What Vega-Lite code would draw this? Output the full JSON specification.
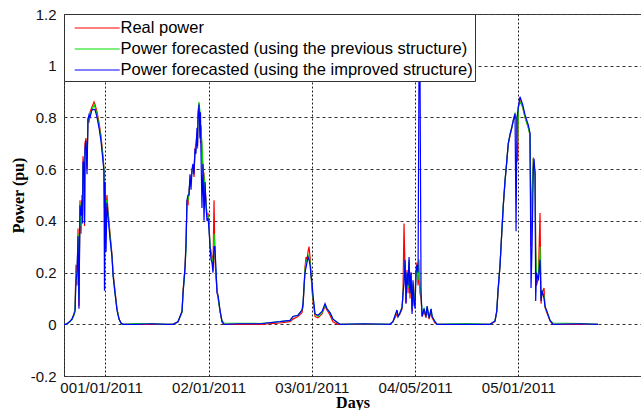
{
"$schema": "https://vega.github.io/schema/vega-lite/v6.json",
"width": 577, "height": 362,
"autosize": {"type": "none"},
"padding": {"left": 64, "top": 14, "right": 0, "bottom": 34},
"background": "white",
"title": {"text": "The improved structure", "fontSize": 14, "font": "Liberation Sans", "fontWeight": "normal", "offset": 10, "dx": -8, "color": "black"},
"config": {"view": {"stroke": "#444", "strokeWidth": 1}},
"data": {"values": [
{"x":0,"r":0,"p":0,"i":0},
{"x":1.9,"r":0,"p":0,"i":0},
{"x":3.9,"r":0.005,"p":0.005,"i":0.005},
{"x":5.8,"r":0.01,"p":0.01,"i":0.012},
{"x":7.7,"r":0.02,"p":0.018,"i":0.02},
{"x":9.7,"r":0.04,"p":0.035,"i":0.04},
{"x":10.7,"r":0.06,"p":0.06,"i":0.05},
{"x":11.6,"r":0.23,"p":0.2,"i":0.17},
{"x":12.6,"r":0.15,"p":0.17,"i":0.2},
{"x":13.6,"r":0.37,"p":0.35,"i":0.34},
{"x":14.5,"r":0.07,"p":0.1,"i":0.06},
{"x":15.5,"r":0.48,"p":0.47,"i":0.46},
{"x":16.5,"r":0.35,"p":0.38,"i":0.42},
{"x":17.4,"r":0.5,"p":0.5,"i":0.48},
{"x":17.9,"r":0.4,"p":0.42,"i":0.39},
{"x":18.4,"r":0.65,"p":0.62,"i":0.63},
{"x":19.4,"r":0.6,"p":0.58,"i":0.62},
{"x":19.9,"r":0.38,"p":0.42,"i":0.39},
{"x":20.3,"r":0.7,"p":0.66,"i":0.68},
{"x":21.3,"r":0.72,"p":0.7,"i":0.71},
{"x":22.3,"r":0.6,"p":0.62,"i":0.58},
{"x":23.2,"r":0.8,"p":0.79,"i":0.79},
{"x":24.2,"r":0.78,"p":0.8,"i":0.81},
{"x":25.2,"r":0.82,"p":0.81,"i":0.8},
{"x":27.1,"r":0.84,"p":0.83,"i":0.83},
{"x":29.1,"r":0.86,"p":0.85,"i":0.83},
{"x":30.0,"r":0.85,"p":0.84,"i":0.83},
{"x":32.0,"r":0.82,"p":0.81,"i":0.8},
{"x":33.9,"r":0.78,"p":0.77,"i":0.76},
{"x":35.8,"r":0.73,"p":0.72,"i":0.71},
{"x":37.8,"r":0.65,"p":0.64,"i":0.63},
{"x":38.7,"r":0.6,"p":0.6,"i":0.59},
{"x":39.2,"r":0.45,"p":0.5,"i":0.13},
{"x":39.7,"r":0.55,"p":0.54,"i":0.55},
{"x":40.7,"r":0.42,"p":0.45,"i":0.28},
{"x":41.6,"r":0.5,"p":0.48,"i":0.47},
{"x":42.6,"r":0.44,"p":0.43,"i":0.42},
{"x":44.6,"r":0.35,"p":0.34,"i":0.33},
{"x":46.5,"r":0.27,"p":0.26,"i":0.26},
{"x":47.5,"r":0.2,"p":0.19,"i":0.19},
{"x":49.4,"r":0.13,"p":0.12,"i":0.12},
{"x":51.3,"r":0.06,"p":0.06,"i":0.055},
{"x":53.3,"r":0.02,"p":0.02,"i":0.02},
{"x":55.2,"r":0.005,"p":0.005,"i":0.005},
{"x":57.1,"r":0,"p":0,"i":0},
{"x":70,"r":0,"p":0.003,"i":0},
{"x":85,"r":0,"p":0.003,"i":0.002},
{"x":100,"r":0,"p":0,"i":0},
{"x":105.6,"r":0,"p":0,"i":0},
{"x":110.4,"r":0.01,"p":0.01,"i":0.01},
{"x":114.3,"r":0.05,"p":0.045,"i":0.05},
{"x":115.3,"r":0.13,"p":0.12,"i":0.12},
{"x":117.2,"r":0.22,"p":0.21,"i":0.22},
{"x":118.2,"r":0.325,"p":0.3,"i":0.31},
{"x":119.1,"r":0.48,"p":0.47,"i":0.48},
{"x":120.1,"r":0.46,"p":0.48,"i":0.5},
{"x":121.1,"r":0.52,"p":0.51,"i":0.5},
{"x":122.0,"r":0.55,"p":0.56,"i":0.58},
{"x":123.0,"r":0.57,"p":0.55,"i":0.52},
{"x":124.0,"r":0.59,"p":0.6,"i":0.6},
{"x":124.9,"r":0.61,"p":0.6,"i":0.62},
{"x":125.9,"r":0.57,"p":0.62,"i":0.58},
{"x":126.9,"r":0.675,"p":0.66,"i":0.68},
{"x":127.8,"r":0.7,"p":0.68,"i":0.66},
{"x":128.8,"r":0.74,"p":0.72,"i":0.76},
{"x":129.3,"r":0.68,"p":0.7,"i":0.69},
{"x":129.8,"r":0.82,"p":0.8,"i":0.8},
{"x":130.7,"r":0.855,"p":0.86,"i":0.85},
{"x":131.7,"r":0.8,"p":0.82,"i":0.72},
{"x":132.2,"r":0.7,"p":0.71,"i":0.82},
{"x":132.6,"r":0.77,"p":0.75,"i":0.68},
{"x":133.6,"r":0.675,"p":0.7,"i":0.45},
{"x":134.6,"r":0.6,"p":0.6,"i":0.62},
{"x":135.6,"r":0.58,"p":0.57,"i":0.4},
{"x":136.6,"r":0.53,"p":0.52,"i":0.55},
{"x":137.5,"r":0.48,"p":0.47,"i":0.46},
{"x":138.5,"r":0.415,"p":0.42,"i":0.4},
{"x":139.5,"r":0.43,"p":0.42,"i":0.41},
{"x":140.4,"r":0.39,"p":0.38,"i":0.37},
{"x":141.4,"r":0.3,"p":0.31,"i":0.3},
{"x":142.4,"r":0.28,"p":0.27,"i":0.25},
{"x":143.3,"r":0.26,"p":0.25,"i":0.24},
{"x":144.3,"r":0.22,"p":0.21,"i":0.2},
{"x":145.3,"r":0.48,"p":0.35,"i":0.3},
{"x":146.2,"r":0.25,"p":0.28,"i":0.3},
{"x":147.2,"r":0.18,"p":0.2,"i":0.21},
{"x":148.2,"r":0.13,"p":0.14,"i":0.12},
{"x":149.2,"r":0.11,"p":0.1,"i":0.11},
{"x":151.1,"r":0.05,"p":0.05,"i":0.055},
{"x":153.0,"r":0.01,"p":0.015,"i":0.01},
{"x":155.0,"r":0,"p":0.005,"i":0},
{"x":170,"r":0,"p":0.004,"i":0.002},
{"x":190,"r":0,"p":0.003,"i":0.002},
{"x":209.2,"r":0.005,"p":0.01,"i":0.01},
{"x":218.9,"r":0.01,"p":0.015,"i":0.015},
{"x":221.8,"r":0.02,"p":0.03,"i":0.03},
{"x":226.6,"r":0.03,"p":0.035,"i":0.035},
{"x":230.5,"r":0.045,"p":0.055,"i":0.055},
{"x":231.5,"r":0.07,"p":0.08,"i":0.08},
{"x":232.5,"r":0.14,"p":0.145,"i":0.15},
{"x":233.4,"r":0.22,"p":0.21,"i":0.2},
{"x":234.4,"r":0.26,"p":0.24,"i":0.22},
{"x":235.4,"r":0.25,"p":0.25,"i":0.24},
{"x":236.3,"r":0.28,"p":0.25,"i":0.26},
{"x":237.3,"r":0.3,"p":0.27,"i":0.25},
{"x":238.3,"r":0.26,"p":0.24,"i":0.23},
{"x":239.2,"r":0.2,"p":0.19,"i":0.19},
{"x":240.2,"r":0.13,"p":0.15,"i":0.16},
{"x":241.2,"r":0.09,"p":0.1,"i":0.11},
{"x":243.1,"r":0.03,"p":0.04,"i":0.04},
{"x":246.0,"r":0.025,"p":0.03,"i":0.035},
{"x":249.9,"r":0.04,"p":0.045,"i":0.05},
{"x":252.8,"r":0.07,"p":0.075,"i":0.08},
{"x":254.7,"r":0.055,"p":0.06,"i":0.06},
{"x":257.6,"r":0.035,"p":0.045,"i":0.045},
{"x":260.5,"r":0.01,"p":0.02,"i":0.02},
{"x":265.4,"r":0,"p":0.005,"i":0.005},
{"x":267.3,"r":0,"p":0,"i":0},
{"x":290,"r":0,"p":0.002,"i":0.002},
{"x":315.7,"r":0,"p":0,"i":0},
{"x":318.6,"r":0.01,"p":0.01,"i":0.01},
{"x":322.5,"r":0.04,"p":0.055,"i":0.055},
{"x":323.5,"r":0.03,"p":0.03,"i":0.03},
{"x":325.4,"r":0.04,"p":0.045,"i":0.045},
{"x":327.4,"r":0.06,"p":0.065,"i":0.065},
{"x":328.3,"r":0.12,"p":0.11,"i":0.12},
{"x":329.3,"r":0.39,"p":0.2,"i":0.16},
{"x":330.3,"r":0.2,"p":0.24,"i":0.25},
{"x":331.2,"r":0.08,"p":0.1,"i":0.08},
{"x":332.2,"r":0.21,"p":0.2,"i":0.2},
{"x":333.2,"r":0.12,"p":0.14,"i":0.15},
{"x":334.2,"r":0.24,"p":0.25,"i":0.26},
{"x":335.1,"r":0.1,"p":0.12,"i":0.12},
{"x":336.1,"r":0.2,"p":0.18,"i":0.2},
{"x":337.1,"r":0.05,"p":0.06,"i":0.04},
{"x":338.0,"r":0.15,"p":0.16,"i":0.17},
{"x":339.0,"r":0.07,"p":0.09,"i":0.09},
{"x":340.0,"r":0.12,"p":0.11,"i":0.06},
{"x":340.9,"r":0.2,"p":0.19,"i":0.2},
{"x":341.9,"r":0.24,"p":0.22,"i":0.23},
{"x":342.9,"r":0.15,"p":0.17,"i":0.2},
{"x":343.8,"r":0.2,"p":0.25,"i":1.0},
{"x":344.8,"r":0.12,"p":0.15,"i":0.97},
{"x":345.8,"r":0.1,"p":0.12,"i":0.12},
{"x":346.8,"r":0.03,"p":0.035,"i":0.03},
{"x":348.7,"r":0.05,"p":0.06,"i":0.06},
{"x":350.6,"r":0.025,"p":0.03,"i":0.03},
{"x":351.6,"r":0.06,"p":0.07,"i":0.07},
{"x":353.6,"r":0.02,"p":0.025,"i":0.025},
{"x":355.5,"r":0.05,"p":0.06,"i":0.06},
{"x":356.5,"r":0.025,"p":0.03,"i":0.03},
{"x":359.3,"r":0.005,"p":0.01,"i":0.01},
{"x":361.3,"r":0,"p":0,"i":0},
{"x":390,"r":0,"p":0.003,"i":0},
{"x":412.6,"r":0,"p":0,"i":0},
{"x":417.4,"r":0.01,"p":0.013,"i":0.013},
{"x":419.1,"r":0.05,"p":0.05,"i":0.05},
{"x":420.3,"r":0.12,"p":0.13,"i":0.13},
{"x":422.3,"r":0.23,"p":0.23,"i":0.23},
{"x":423.9,"r":0.35,"p":0.35,"i":0.35},
{"x":425.5,"r":0.46,"p":0.465,"i":0.465},
{"x":427.1,"r":0.55,"p":0.555,"i":0.555},
{"x":428.8,"r":0.63,"p":0.63,"i":0.63},
{"x":430.3,"r":0.7,"p":0.7,"i":0.7},
{"x":432.0,"r":0.73,"p":0.735,"i":0.735},
{"x":433.6,"r":0.76,"p":0.76,"i":0.76},
{"x":435.2,"r":0.79,"p":0.79,"i":0.79},
{"x":436.8,"r":0.81,"p":0.815,"i":0.815},
{"x":437.8,"r":0.8,"p":0.8,"i":0.36},
{"x":438.7,"r":0.78,"p":0.79,"i":0.8},
{"x":439.4,"r":0.63,"p":0.7,"i":0.82},
{"x":440.0,"r":0.84,"p":0.84,"i":0.84},
{"x":441.6,"r":0.865,"p":0.86,"i":0.88},
{"x":444.2,"r":0.84,"p":0.84,"i":0.85},
{"x":446.5,"r":0.8,"p":0.8,"i":0.81},
{"x":449.7,"r":0.76,"p":0.76,"i":0.77},
{"x":451.3,"r":0.735,"p":0.73,"i":0.74},
{"x":452.3,"r":0.3,"p":0.4,"i":0.14},
{"x":453.3,"r":0.5,"p":0.45,"i":0.3},
{"x":454.5,"r":0.645,"p":0.64,"i":0.6},
{"x":455.2,"r":0.6,"p":0.62,"i":0.64},
{"x":456.2,"r":0.59,"p":0.58,"i":0.58},
{"x":456.8,"r":0.3,"p":0.3,"i":0.09},
{"x":457.6,"r":0.15,"p":0.18,"i":0.2},
{"x":459.4,"r":0.18,"p":0.18,"i":0.17},
{"x":461.0,"r":0.43,"p":0.3,"i":0.25},
{"x":462.0,"r":0.08,"p":0.1,"i":0.09},
{"x":462.9,"r":0.12,"p":0.13,"i":0.13},
{"x":464.9,"r":0.14,"p":0.11,"i":0.1},
{"x":465.8,"r":0.065,"p":0.07,"i":0.07},
{"x":468.1,"r":0.04,"p":0.045,"i":0.045},
{"x":470.7,"r":0.013,"p":0.015,"i":0.015},
{"x":473.6,"r":0,"p":0.005,"i":0},
{"x":500,"r":0,"p":0.003,"i":0.002},
{"x":517.2,"r":0,"p":0,"i":0}
]},
"transform": [{"fold": ["r", "p", "i"], "as": ["s", "v"]}],
"mark": {"type": "line", "strokeWidth": 1.2, "clip": true},
"encoding": {
  "x": {"field": "x", "type": "quantitative",
    "scale": {"domain": [0, 558.8], "nice": false, "zero": false},
    "axis": {"values": [0, 40, 140, 240, 340, 440],
      "labelExpr": "datum.value==0?'0':datum.value==40?'01/01/2011':datum.value==140?'02/01/2011':datum.value==240?'03/01/2011':datum.value==340?'04/05/2011':'05/01/2011'",
      "labelOverlap": false, "labelFlush": false, "labelBound": false,
      "ticks": false, "domain": false, "grid": true, "gridDash": [2, 2], "gridColor": "#222",
      "labelFont": "Liberation Sans", "labelFontSize": 15, "labelColor": "#111", "labelPadding": 4,
      "title": "Days", "titleFont": "Liberation Serif", "titleFontWeight": "bold", "titleFontSize": 16, "titleColor": "black", "titlePadding": -1}},
  "y": {"field": "v", "type": "quantitative",
    "scale": {"domain": [-0.2, 1.2], "nice": false, "zero": false},
    "axis": {"values": [-0.2, 0, 0.2, 0.4, 0.6, 0.8, 1, 1.2],
      "labelExpr": "'' + datum.value",
      "ticks": false, "domain": false, "grid": true, "gridDash": [3, 3], "gridColor": "#333",
      "labelFont": "Liberation Sans", "labelFontSize": 15, "labelColor": "#111", "labelPadding": 8,
      "title": "Power (pu)", "titleFont": "Liberation Serif", "titleFontWeight": "bold", "titleFontSize": 16, "titleColor": "black", "titlePadding": 4}},
  "color": {"field": "s", "type": "nominal",
    "scale": {"domain": ["r", "p", "i"], "range": ["#ff0000", "#00dd00", "#0000ff"]},
    "legend": {"orient": "none", "legendX": 0, "legendY": 0, "title": null,
      "fillColor": "white", "strokeColor": "#333", "padding": 2,
      "symbolType": "M-0.29,0H3.71", "symbolSize": 506, "symbolStrokeWidth": 1.2,
      "labelFont": "Liberation Sans", "labelFontSize": 16.5, "labelColor": "black", "labelOffset": 30.5,
      "labelLimit": 600, "rowPadding": -1,
      "labelExpr": "datum.value=='r'?'Real power':datum.value=='p'?'Power forecasted (using the previous structure)':'Power forecasted (using the improved structure)'"}}
}
}
